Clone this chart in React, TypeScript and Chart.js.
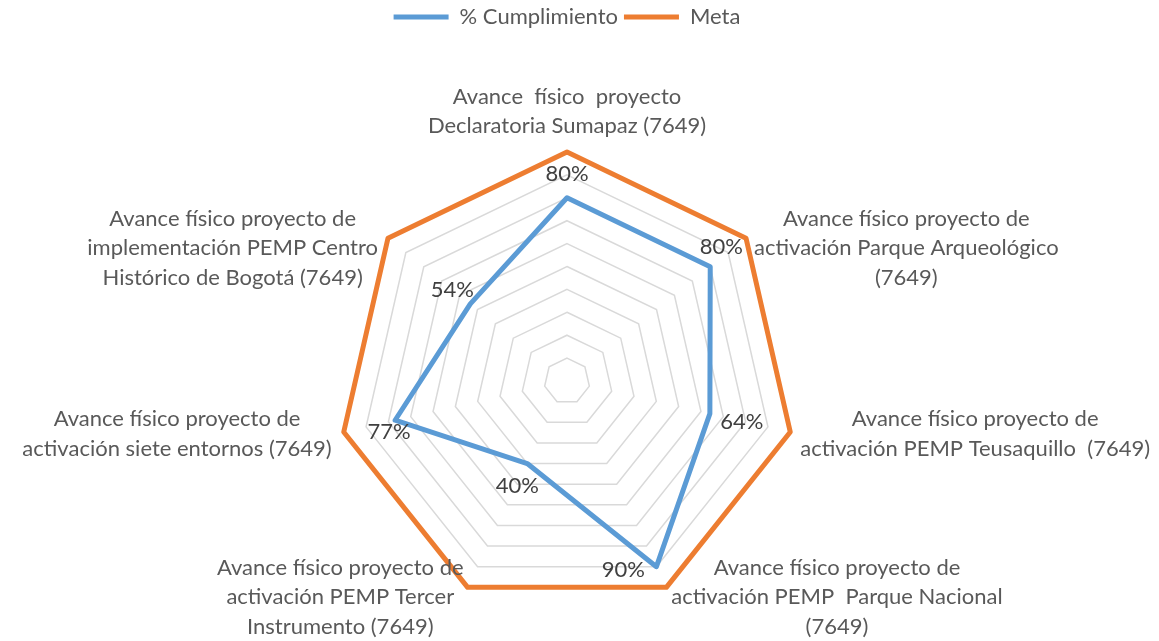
import { useEffect, useRef } from 'react';
import { Chart, registerables } from 'chart.js';

Chart.register(...registerables);

const categories: string[][] = [
  ['Avance  físico  proyecto', 'Declaratoria Sumapaz (7649)'],
  ['Avance físico proyecto de', 'activación Parque Arqueológico', '(7649)'],
  ['Avance físico proyecto de', 'activación PEMP Teusaquillo  (7649)'],
  ['Avance físico proyecto de', 'activación PEMP  Parque Nacional', '(7649)'],
  ['Avance físico proyecto de', 'activación PEMP Tercer', 'Instrumento (7649)'],
  ['Avance físico proyecto de', 'activación siete entornos (7649)'],
  ['Avance físico proyecto de', 'implementación PEMP Centro', 'Histórico de Bogotá (7649)'],
];
const cumplimiento = [0.8, 0.8, 0.64, 0.9, 0.4, 0.77, 0.54];
const meta = [1, 1, 1, 1, 1, 1, 1];
const seriesNames = ['% Cumplimiento', 'Meta'];
const scaleMin = 0;
const scaleMax = 1;
const scaleStep = 0.1;

const FONT = 'Lato, "Open Sans", sans-serif';
const FONT_SIZE = 22;
const BLUE = '#5B9BD5';
const ORANGE = '#ED7D31';
// style: horizontal gap between vertex and label block, per axis
const LABEL_GAP = [0, 8, 10, 5, 4, 12, 10];
// style: data label offsets from the point
const DL_OFFSETS: [number, number][] = [
  [0, -24], [11, -20], [32, 8], [-33, 3], [-10, 22], [-6, 12], [-18, -14],
];

const legendHeightPlugin = {
  id: 'legendHeight',
  beforeLayout(chart: any) {
    const lg = chart.legend;
    if (lg && !lg.__patched) {
      const orig = lg.fit;
      lg.fit = function () {
        orig.call(this);
        this.height = 152;
      };
      lg.__patched = true;
    }
  },
};

const labelsPlugin = {
  id: 'customLabels',
  afterDatasetsDraw(chart: any) {
    const scale = chart.scales.r;
    const ctx = chart.ctx as CanvasRenderingContext2D;
    ctx.save();
    ctx.font = `${FONT_SIZE}px ${FONT}`;
    ctx.textBaseline = 'middle';
    ctx.textAlign = 'center';
    ctx.fillStyle = '#595959';
    const lh = 29.5;
    categories.forEach((lines, i) => {
      const p = scale.getPointPosition(i, scale.drawingArea);
      const dx = p.x - scale.xCenter;
      const bw = Math.max(...lines.map((l) => ctx.measureText(l).width));
      const n = lines.length;
      let cx: number;
      let cy: number;
      if (Math.abs(dx) < 1) {
        cx = p.x;
        cy = p.y - 26 - ((n - 1) * lh) / 2;
      } else {
        cx = dx > 0 ? p.x + LABEL_GAP[i] + bw / 2 : p.x - LABEL_GAP[i] - bw / 2;
        cy = p.y + (n === 3 ? 10 : 2);
      }
      lines.forEach((l, k) => ctx.fillText(l, cx, cy + (k - (n - 1) / 2) * lh));
    });
    // data labels
    const m = chart.getDatasetMeta(0);
    ctx.fillStyle = '#404040';
    m.data.forEach((pt: any, i: number) => {
      const [ox, oy] = DL_OFFSETS[i];
      ctx.fillText(Math.round(cumplimiento[i] * 100) + '%', pt.x + ox, pt.y + oy);
    });
    ctx.restore();
  },
};

export default function App() {
  const ref = useRef<HTMLCanvasElement>(null);
  useEffect(() => {
    if (!ref.current) return;
    const chart = new Chart(ref.current, {
      type: 'radar',
      data: {
        labels: categories.map((c) => c.join(' ')),
        datasets: [
          {
            label: seriesNames[0],
            data: cumplimiento,
            borderColor: BLUE,
            backgroundColor: BLUE,
            borderWidth: 5,
            fill: false,
            pointRadius: 0,
            pointHoverRadius: 0,
            borderJoinStyle: 'round',
          },
          {
            label: seriesNames[1],
            data: meta,
            borderColor: ORANGE,
            backgroundColor: ORANGE,
            borderWidth: 5,
            fill: false,
            pointRadius: 0,
            pointHoverRadius: 0,
            borderJoinStyle: 'round',
          },
        ],
      },
      options: {
        animation: false,
        responsive: true,
        maintainAspectRatio: false,
        layout: { padding: { top: 0, bottom: 31, left: 0, right: 25 } },
        plugins: {
          tooltip: { enabled: false },
          legend: {
            position: 'top',
            labels: {
              boxWidth: 55,
              boxHeight: 5,
              padding: 6,
              color: '#595959',
              font: { family: FONT, size: FONT_SIZE },
              generateLabels: (c: any) =>
                Chart.defaults.plugins.legend.labels
                  .generateLabels(c)
                  .map((it: any) => ({ ...it, lineWidth: 0, fillStyle: it.strokeStyle })),
            },
          },
        },
        scales: {
          r: {
            min: scaleMin,
            max: scaleMax,
            ticks: { stepSize: scaleStep, display: false },
            grid: { color: '#D9D9D9', lineWidth: 1.5 },
            angleLines: { display: false },
            pointLabels: { display: false },
          },
        },
      },
      plugins: [legendHeightPlugin, labelsPlugin],
    });
    return () => chart.destroy();
  }, []);
  return (
    <div style={{ position: 'fixed', left: 0, top: 0, width: 1159, height: 641, background: '#fff' }}>
      <canvas ref={ref} />
    </div>
  );
}
